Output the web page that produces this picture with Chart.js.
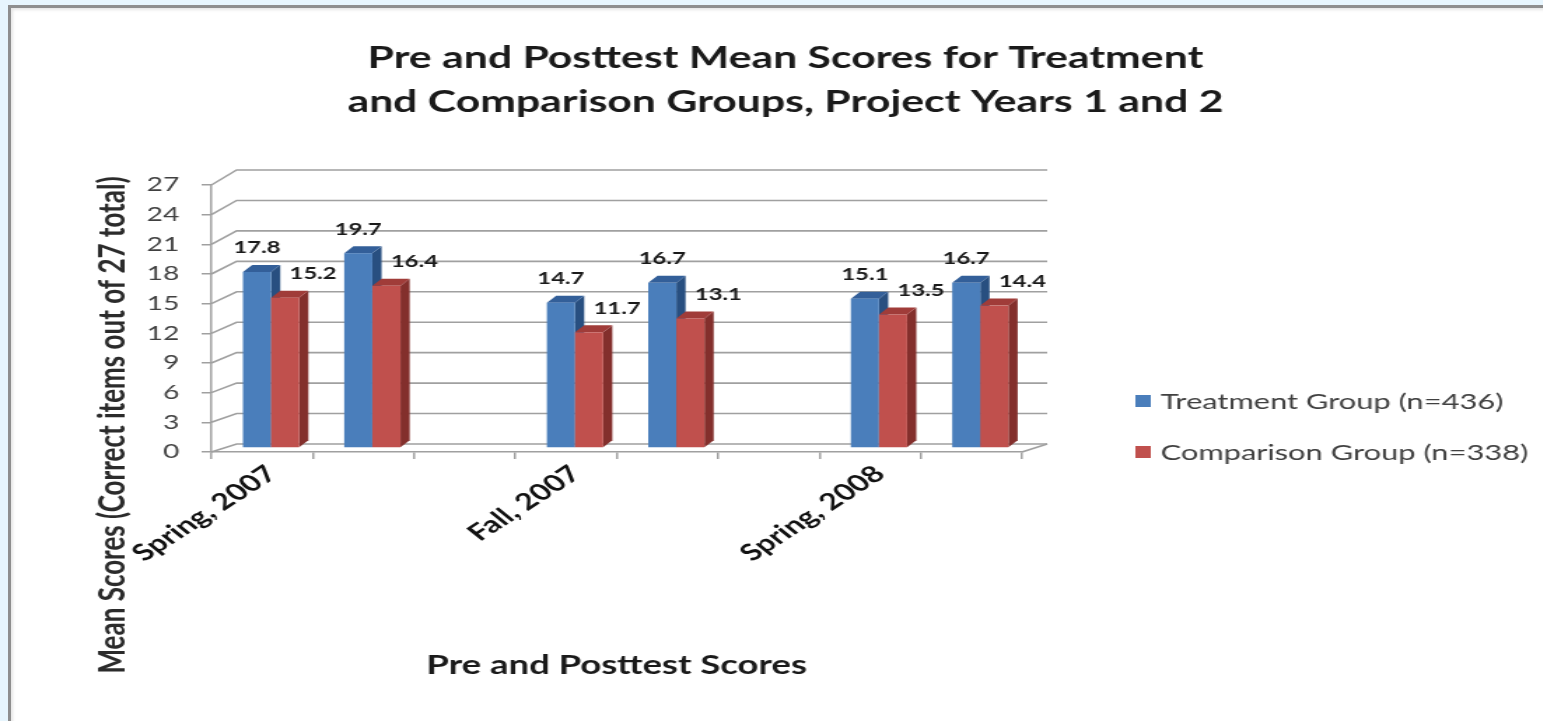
<!DOCTYPE html>
<html>
<head>
<meta charset="utf-8">
<title>Pre and Posttest Mean Scores</title>
<script src="https://cdn.jsdelivr.net/npm/chart.js@4.4.1/dist/chart.umd.min.js"></script>
<style>
  html, body { margin: 0; padding: 0; width: 1543px; height: 721px; overflow: hidden; background: #e7f5fd; }
  #panel {
    position: absolute; left: 8px; top: 5px; width: 1600px; height: 800px;
    background: #ffffff;
    border-left: 3px solid #8e8e8e; border-top: 3px solid #8e8e8e;
    box-shadow: inset 2px 2px 3px rgba(0,0,0,0.10);
  }
  /* the drawing is laid out on a narrower canvas and widened horizontally */
  #stage { position: absolute; left: 0; top: 0; width: 1122px; height: 721px; transform: scaleX(1.4); transform-origin: 0 0; }
</style>
</head>
<body>
<div id="panel"></div>
<div id="stage"><canvas id="chart"></canvas></div>
<script>
// ---- data ----
const categories = ['Spring, 2007', '', '', 'Fall, 2007', '', '', 'Spring, 2008', ''];
const treatmentScores = [17.8, 19.7, null, 14.7, 16.7, null, 15.1, 16.7];
const comparisonScores = [15.2, 16.4, null, 11.7, 13.1, null, 13.5, 14.4];
const seriesNames = ['Treatment Group (n=436)', 'Comparison Group (n=338)'];
const titleLines = ['Pre and Posttest Mean Scores for Treatment', 'and Comparison Groups, Project Years 1 and 2'];
const xAxisTitle = 'Pre and Posttest Scores';
const yAxisTitle = 'Mean Scores (Correct items out of 27 total)';

// ---- styling ----
const FONT = 'Lato';
const axisGray = '#a0a0a0';
const shades = [
  { front: '#4a7ebb', side: '#284f80', top: '#335f99' },
  { front: '#c0504d', side: '#832f2c', top: '#a03c39' }
];
// offsets that give the columns and walls their depth
const depth = { barX: 6.4, barY: -4, sideX: 6.6, sideY: -7, wallX: 18, wallY0: -8, wallY1: -15 };
const valueLabel = { dx: [0, 20], dy: -24, size: 17 };
const legendBox = { x: 811, y: 401, rowGap: 51, boxW: 11, boxH: 12, textX: 829, size: 22 };
const yTitleBox = { x: 81, y: 425, size: 26 };
const titleBox = { x: 561, y: 58, lineGap: 44, size: 30.5 };

const depthPlugin = {
  id: 'depthColumns',
  beforeDatasetsDraw(chart) {
    const { ctx, chartArea, scales } = chart;
    const ys = scales.y;
    const vmax = ys.max;
    const backY = v => ys.getPixelForValue(v) + depth.wallY0 + (depth.wallY1 - depth.wallY0) * (v / vmax);

    // back wall grid, side wall diagonals and floor edge
    ctx.save();
    ctx.strokeStyle = axisGray;
    ctx.lineWidth = 1.6;
    ys.ticks.forEach(t => {
      const v = t.value;
      const yf = ys.getPixelForValue(v);
      const yb = backY(v);
      ctx.beginPath();
      ctx.moveTo(chartArea.left, yf);
      ctx.lineTo(chartArea.left + depth.wallX, yb);
      ctx.lineTo(chartArea.right + depth.wallX, yb);
      ctx.stroke();
    });
    ctx.beginPath();
    ctx.moveTo(chartArea.right, ys.getPixelForValue(0));
    ctx.lineTo(chartArea.right + depth.wallX, backY(0));
    ctx.stroke();
    ctx.restore();

    // columns: front face, right side, top
    chart.data.datasets.forEach((ds, i) => {
      const meta = chart.getDatasetMeta(i);
      const c = shades[i];
      meta.data.forEach((bar, j) => {
        if (ds.data[j] == null) return;
        const p = bar.getProps(['x', 'y', 'base', 'width'], true);
        const x0 = p.x - p.width / 2 + depth.barX;
        const x1 = x0 + p.width;
        const yt = p.y + depth.barY;
        const yb = p.base + depth.barY;
        ctx.save();
        ctx.fillStyle = c.side;
        ctx.beginPath();
        ctx.moveTo(x1, yt);
        ctx.lineTo(x1 + depth.sideX, yt + depth.sideY);
        ctx.lineTo(x1 + depth.sideX, yb + depth.sideY);
        ctx.lineTo(x1, yb);
        ctx.closePath();
        ctx.fill();
        ctx.fillStyle = c.top;
        ctx.beginPath();
        ctx.moveTo(x0, yt);
        ctx.lineTo(x0 + depth.sideX, yt + depth.sideY);
        ctx.lineTo(x1 + depth.sideX, yt + depth.sideY);
        ctx.lineTo(x1, yt);
        ctx.closePath();
        ctx.fill();
        ctx.fillStyle = c.front;
        ctx.fillRect(x0, yt, p.width, yb - yt);
        ctx.restore();
      });
    });
    return false;
  }
};

const annotationPlugin = {
  id: 'annotations',
  afterDraw(chart) {
    const { ctx } = chart;
    ctx.save();
    ctx.textBaseline = 'middle';

    // chart title
    ctx.textAlign = 'center';
    ctx.fillStyle = '#1a1a1a';
    ctx.font = `bold ${titleBox.size}px ${FONT}`;
    titleLines.forEach((line, k) => ctx.fillText(line, titleBox.x, titleBox.y + k * titleBox.lineGap));

    // value labels
    ctx.font = `bold ${valueLabel.size}px ${FONT}`;
    chart.data.datasets.forEach((ds, i) => {
      chart.getDatasetMeta(i).data.forEach((bar, j) => {
        const v = ds.data[j];
        if (v == null) return;
        const p = bar.getProps(['x', 'y'], true);
        ctx.fillText(v.toFixed(1), p.x + depth.barX + valueLabel.dx[i], p.y + depth.barY + valueLabel.dy);
      });
    });

    // legend
    ctx.textAlign = 'left';
    ctx.font = `${legendBox.size}px ${FONT}`;
    chart.data.datasets.forEach((ds, i) => {
      const cy = legendBox.y + i * legendBox.rowGap;
      ctx.fillStyle = shades[i].front;
      ctx.fillRect(legendBox.x, cy - legendBox.boxH / 2, legendBox.boxW, legendBox.boxH);
      ctx.fillStyle = '#404040';
      ctx.fillText(ds.label, legendBox.textX, cy + 1);
    });

    // vertical axis title
    ctx.translate(yTitleBox.x, yTitleBox.y);
    ctx.rotate(-Math.PI / 2);
    ctx.textAlign = 'center';
    ctx.font = `bold ${yTitleBox.size}px ${FONT}`;
    ctx.fillStyle = '#2b2b2b';
    ctx.fillText(yAxisTitle, 0, 0);
    ctx.restore();
  }
};

function build() {
  new Chart(document.getElementById('chart'), {
    type: 'bar',
    data: {
      labels: categories,
      datasets: [
        { label: seriesNames[0], data: treatmentScores, backgroundColor: shades[0].front, borderWidth: 0 },
        { label: seriesNames[1], data: comparisonScores, backgroundColor: shades[1].front, borderWidth: 0 }
      ]
    },
    options: {
      responsive: true,
      maintainAspectRatio: false,
      animation: false,
      layout: { padding: { left: 100, right: 392, top: 185, bottom: 10 } },
      datasets: { bar: { categoryPercentage: 0.555, barPercentage: 1 } },
      plugins: {
        legend: { display: false },
        tooltip: { enabled: false },
        title: { display: false }
      },
      scales: {
        x: {
          offset: true,
          grid: { offset: true, drawOnChartArea: false, tickLength: 7, color: axisGray, lineWidth: 1.5 },
          border: { color: axisGray, width: 1.5 },
          ticks: {
            autoSkip: false, minRotation: 42, maxRotation: 42, padding: 1, labelOffset: 7,
            color: '#111111', font: { family: FONT, size: 23, weight: 'bold' }
          },
          title: {
            display: true, text: xAxisTitle, color: '#1a1a1a',
            font: { family: FONT, size: 26, weight: 'bold', lineHeight: 1.2 },
            padding: { top: 0, bottom: 30 }
          },
          afterFit(scale) { scale.height = 259; }
        },
        y: {
          min: 0, max: 27,
          grid: { drawOnChartArea: false, tickLength: 7, color: axisGray, lineWidth: 1.5 },
          border: { color: axisGray, width: 1.5 },
          ticks: { stepSize: 3, padding: 16, color: '#404040', font: { family: FONT, size: 20 } },
          afterFit(scale) { scale.width = 51; }
        }
      }
    },
    plugins: [depthPlugin, annotationPlugin]
  });
}

if (document.fonts && document.fonts.load) {
  Promise.all([
    document.fonts.load(`bold 20px ${FONT}`),
    document.fonts.load(`20px ${FONT}`)
  ]).then(build, build);
} else {
  build();
}
</script>
</body>
</html>
